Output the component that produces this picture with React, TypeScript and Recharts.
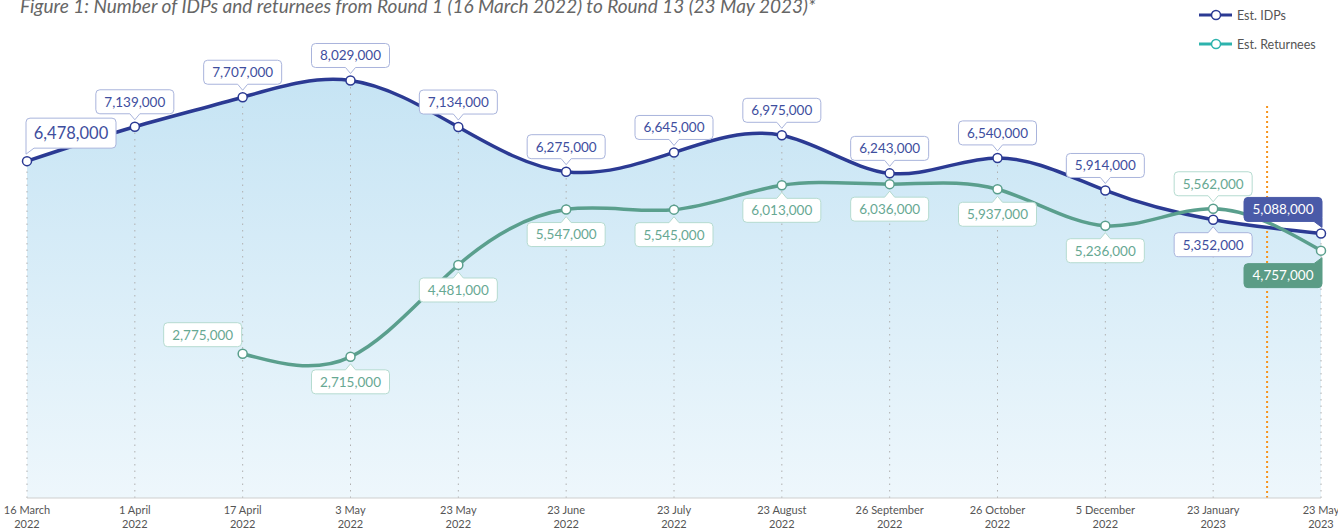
import React from 'react';
import { ComposedChart, Area, Line, XAxis, YAxis, ReferenceLine, LabelList } from 'recharts';

const dates = ['16 March', '1 April', '17 April', '3 May', '23 May', '23 June', '23 July', '23 August', '26 September', '26 October', '5 December', '23 January', '23 May'];
const years = ['2022', '2022', '2022', '2022', '2022', '2022', '2022', '2022', '2022', '2022', '2022', '2023', '2023'];
const idps = [6478000, 7139000, 7707000, 8029000, 7134000, 6275000, 6645000, 6975000, 6243000, 6540000, 5914000, 5352000, 5088000];
const returnees = [null, null, 2775000, 2715000, 4481000, 5547000, 5545000, 6013000, 6036000, 5937000, 5236000, 5562000, 4757000];
const tickIndexes = [0, 1, 2, 3, 4, 5, 6, 7, 8, 9, 10, 11, 12];
const roundMarker = 11.5;
const roundMarkerTop = 7550000;

// label placement (style, not data)
const idpPlacement = ['bigTopRight', 'top', 'top', 'top', 'top', 'top', 'top', 'top', 'top', 'top', 'top', 'bottom', 'filledTopLeft'];
const retPlacement = ['', '', 'topLeft', 'bottom', 'bottom', 'bottom', 'bottom', 'bottom', 'bottom', 'bottom', 'bottom', 'top', 'filledBottomLeft'];

const data = dates.map((d, i) => ({ i, date: d, year: years[i], idps: idps[i], returnees: returnees[i] }));

const IDP_COLOR = '#2b3a93';
const RET_COLOR = '#5a9f8d';
const FONT = 'Lato, "Open Sans", sans-serif';

const fmt = (v: number) => v.toLocaleString('en-US');

function calloutPath(bx: number, by: number, bw: number, bh: number, r: number, o: { tailTop?: number; tailBottom?: number; tipY?: number; corner?: string }) {
  const x0 = bx, x1 = bx + bw, y0 = by, y1 = by + bh;
  let d = `M ${x0 + r} ${y0}`;
  if (o.tailTop != null) d += ` H ${o.tailTop - 5} L ${o.tailTop} ${o.tipY} L ${o.tailTop + 5} ${y0}`;
  if (o.corner === 'tr') d += ` H ${x1 - 8} L ${x1} ${y0 - 6} V ${y1 - r}`;
  else d += ` H ${x1 - r} Q ${x1} ${y0} ${x1} ${y0 + r} V ${y1 - r}`;
  if (o.corner === 'br') d += ` V ${y1 + 6} L ${x1 - 8} ${y1}`;
  else d += ` Q ${x1} ${y1} ${x1 - r} ${y1}`;
  if (o.tailBottom != null) d += ` H ${o.tailBottom + 5} L ${o.tailBottom} ${o.tipY} L ${o.tailBottom - 5} ${y1}`;
  if (o.corner === 'bl') d += ` H ${x0 + 8} L ${x0} ${y1 + 6} V ${y0 + r}`;
  else d += ` H ${x0 + r} Q ${x0} ${y1} ${x0} ${y1 - r} V ${y0 + r}`;
  d += ` Q ${x0} ${y0} ${x0 + r} ${y0} Z`;
  return d;
}

function makeLabel(kind: 'idp' | 'ret') {
  return (props: any) => {
    const { x, y, value, index } = props;
    if (value == null || x == null || y == null) return null;
    const place = (kind === 'idp' ? idpPlacement : retPlacement)[index];
    if (!place) return null;
    const cx = Number(x), cy = Number(y);
    let bw = 78, bh = 24, fs = 13.5;
    let bx = cx - bw / 2, by = cy - 13 - bh;
    let opts: any = {};
    const filled = place.startsWith('filled');
    if (place === 'top') { opts = { tailBottom: cx, tipY: cy - 7 }; }
    else if (place === 'bottom') { by = cy + 13; opts = { tailTop: cx, tipY: cy + 7 }; }
    else if (place === 'bigTopRight') { bw = 90; bh = 30; fs = 16.5; bx = cx - 1; by = cy - 13 - bh; opts = { corner: 'bl' }; }
    else if (place === 'topLeft') { bx = cx - 1 - bw; by = cy - 7 - bh; opts = {}; }
    else if (place === 'filledTopLeft') { bx = cx + 1 - bw; by = cy - 12 - bh; opts = { corner: 'br' }; }
    else if (place === 'filledBottomLeft') { bx = cx + 1 - bw; by = cy + 13; opts = { corner: 'tr' }; }
    const border = kind === 'idp' ? '#a9b4dc' : '#b5dbd0';
    const textColor = kind === 'idp' ? '#3e4e9e' : '#67a893';
    const fillColor = filled ? (kind === 'idp' ? '#4a5aa8' : '#5b9c86') : '#ffffff';
    return (
      <g>
        <path d={calloutPath(bx, by, bw, bh, 4, opts)} fill={fillColor} stroke={filled ? fillColor : border} strokeWidth={1} />
        <text x={bx + bw / 2} y={by + bh / 2} dy="0.36em" textAnchor="middle" fontSize={fs} fontFamily={FONT} fill={filled ? '#ffffff' : textColor}>
          {fmt(Number(value))}
        </text>
      </g>
    );
  };
}

const XTick = (props: any) => {
  const { x, y, payload } = props;
  const i = payload.value as number;
  return (
    <text x={x} y={y} textAnchor="middle" fontSize={11} fill="#555" fontFamily={FONT}>
      <tspan x={x} dy={8}>{dates[i]}</tspan>
      <tspan x={x} dy={14}>{years[i]}</tspan>
    </text>
  );
};

function LegendRow({ top, color, label }: { top: number; color: string; label: string }) {
  return (
    <div style={{ position: 'absolute', left: 1198, top: top - 8, height: 16, display: 'flex', alignItems: 'center', whiteSpace: 'nowrap' }}>
      <svg width={36} height={16}>
        <line x1={1} y1={8} x2={34} y2={8} stroke={color} strokeWidth={3} />
        <circle cx={18} cy={8} r={4.5} fill="#fff" stroke={color} strokeWidth={1.5} />
      </svg>
      <span style={{ fontFamily: FONT, fontSize: 12.5, color: '#555', marginLeft: 3 }}>{label}</span>
    </div>
  );
}

export default function App() {
  return (
    <div style={{ position: 'absolute', left: 0, top: 0, width: 1338, height: 530, overflow: 'hidden', background: '#fff' }}>
      <div style={{ position: 'absolute', left: 20, top: -4, fontFamily: FONT, fontStyle: 'italic', fontSize: 19, lineHeight: '19px', color: '#666', whiteSpace: 'nowrap' }}>
        Figure 1: Number of IDPs and returnees from Round 1 (16 March 2022) to Round 13 (23 May 2023)*
      </div>
      <ComposedChart width={1338} height={530} data={data} margin={{ top: 30, right: 17, left: 27, bottom: 2 }} style={{ fontFamily: FONT }}>
        <defs>
          <linearGradient id="idpFill" x1="0" y1="0" x2="0" y2="1">
            <stop offset="0%" stopColor="#c6e4f4" />
            <stop offset="100%" stopColor="#eef7fc" />
          </linearGradient>
        </defs>
        <XAxis dataKey="i" type="number" domain={[0, 12]} ticks={tickIndexes} interval={0} tickLine={false} axisLine={{ stroke: '#cfcfcf' }} tick={<XTick />} height={30} />
        <YAxis hide type="number" domain={[0, 9000000]} />
        <Area type="natural" dataKey="idps" stroke="none" fill="url(#idpFill)" fillOpacity={1} isAnimationActive={false} activeDot={false} />
        {data.map((d) => (
          <ReferenceLine
            key={'v' + d.i}
            segment={[{ x: d.i, y: 0 }, { x: d.i, y: Math.max(d.idps, d.returnees ?? 0) }]}
            stroke="#b0b0b0"
            strokeWidth={1}
            strokeDasharray="1.5 5"
          />
        ))}
        <ReferenceLine segment={[{ x: roundMarker, y: 0 }, { x: roundMarker, y: roundMarkerTop }]} stroke="#f7941d" strokeWidth={2} strokeDasharray="2 3" />
        <Line type="natural" dataKey="idps" stroke={IDP_COLOR} strokeWidth={3.5} dot={{ r: 4.5, fill: '#fff', stroke: IDP_COLOR, strokeWidth: 1.5 }} activeDot={false} isAnimationActive={false}>
          <LabelList dataKey="idps" content={makeLabel('idp')} />
        </Line>
        <Line type="natural" dataKey="returnees" stroke={RET_COLOR} strokeWidth={3.5} dot={{ r: 4.5, fill: '#fff', stroke: RET_COLOR, strokeWidth: 1.5 }} activeDot={false} isAnimationActive={false}>
          <LabelList dataKey="returnees" content={makeLabel('ret')} />
        </Line>
      </ComposedChart>
      <LegendRow top={15} color={IDP_COLOR} label="Est. IDPs" />
      <LegendRow top={44} color="#2db3ad" label="Est. Returnees" />
    </div>
  );
}
